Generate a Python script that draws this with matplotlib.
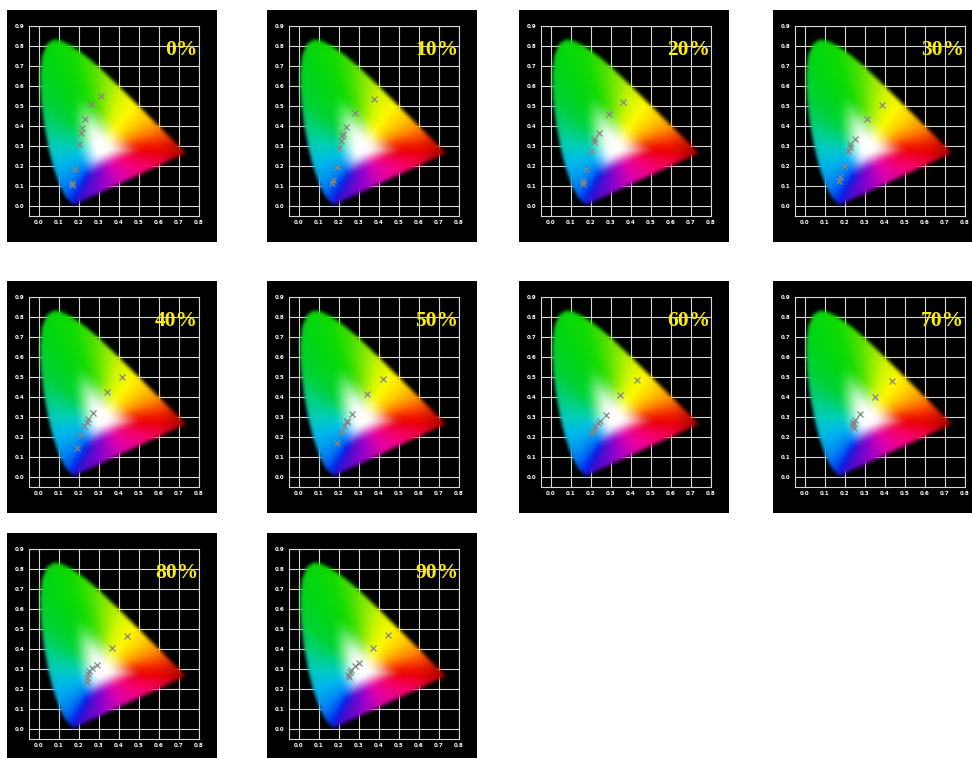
import numpy as np
import matplotlib
matplotlib.use("Agg")
import matplotlib.pyplot as plt
from matplotlib.patches import Rectangle
from matplotlib.path import Path

# CIE 1931 2-degree spectral locus (chromaticity x, y), 380-670 nm in 5 nm steps, then 700 nm
locus_nm = list(range(380, 675, 5)) + [700]
locus_x = [0.1741, 0.1740, 0.1738, 0.1736, 0.1733, 0.1730, 0.1726, 0.1721, 0.1714, 0.1703,
           0.1689, 0.1669, 0.1644, 0.1611, 0.1566, 0.1510, 0.1440, 0.1355, 0.1241, 0.1096,
           0.0913, 0.0687, 0.0454, 0.0235, 0.0082, 0.0039, 0.0139, 0.0389, 0.0743, 0.1142,
           0.1547, 0.1929, 0.2296, 0.2658, 0.3016, 0.3373, 0.3731, 0.4087, 0.4441, 0.4788,
           0.5125, 0.5448, 0.5752, 0.6029, 0.6270, 0.6482, 0.6658, 0.6801, 0.6915, 0.7006,
           0.7079, 0.7140, 0.7190, 0.7230, 0.7260, 0.7283, 0.7300, 0.7311, 0.7320, 0.7347]
locus_y = [0.0050, 0.0050, 0.0049, 0.0049, 0.0048, 0.0048, 0.0048, 0.0048, 0.0051, 0.0058,
           0.0069, 0.0086, 0.0109, 0.0138, 0.0177, 0.0227, 0.0297, 0.0399, 0.0578, 0.0868,
           0.1327, 0.2007, 0.2950, 0.4127, 0.5384, 0.6548, 0.7502, 0.8120, 0.8338, 0.8262,
           0.8059, 0.7816, 0.7543, 0.7243, 0.6923, 0.6589, 0.6245, 0.5896, 0.5547, 0.5202,
           0.4866, 0.4544, 0.4242, 0.3965, 0.3725, 0.3514, 0.3340, 0.3197, 0.3083, 0.2993,
           0.2920, 0.2859, 0.2809, 0.2770, 0.2740, 0.2717, 0.2700, 0.2689, 0.2680, 0.2653]

# Panel titles
levels = ["0%", "10%", "20%", "30%", "40%", "50%", "60%", "70%", "80%", "90%"]

# Measured chromaticity points for each level
x_00 = [0.310, 0.260, 0.230, 0.217, 0.210, 0.200, 0.182, 0.165, 0.163]
y_00 = [0.548, 0.508, 0.433, 0.388, 0.364, 0.312, 0.186, 0.115, 0.105]
x_10 = [0.375, 0.278, 0.237, 0.218, 0.217, 0.212, 0.202, 0.192, 0.168, 0.167]
y_10 = [0.537, 0.463, 0.396, 0.358, 0.349, 0.325, 0.292, 0.193, 0.129, 0.114]
x_20 = [0.358, 0.292, 0.238, 0.217, 0.213, 0.200, 0.175, 0.160, 0.160]
y_20 = [0.518, 0.460, 0.367, 0.334, 0.319, 0.275, 0.183, 0.124, 0.109]
x_30 = [0.387, 0.312, 0.248, 0.223, 0.223, 0.215, 0.195, 0.175, 0.172]
y_30 = [0.504, 0.434, 0.337, 0.308, 0.295, 0.275, 0.200, 0.147, 0.124]
x_40 = [0.415, 0.342, 0.268, 0.243, 0.238, 0.225, 0.205, 0.192]
y_40 = [0.500, 0.423, 0.322, 0.289, 0.277, 0.253, 0.211, 0.146]
x_50 = [0.420, 0.342, 0.267, 0.242, 0.238, 0.225, 0.208, 0.192]
y_50 = [0.492, 0.413, 0.315, 0.280, 0.273, 0.257, 0.223, 0.170]
x_60 = [0.428, 0.345, 0.273, 0.245, 0.237, 0.220, 0.208, 0.198]
y_60 = [0.485, 0.408, 0.312, 0.280, 0.270, 0.253, 0.236, 0.219]
x_70 = [0.436, 0.352, 0.275, 0.252, 0.238, 0.242, 0.235, 0.243]
y_70 = [0.478, 0.401, 0.315, 0.287, 0.274, 0.267, 0.257, 0.243]
x_80 = [0.442, 0.367, 0.292, 0.267, 0.252, 0.243, 0.242, 0.238]
y_80 = [0.467, 0.405, 0.321, 0.305, 0.290, 0.274, 0.257, 0.235]
x_90 = [0.445, 0.370, 0.298, 0.278, 0.262, 0.253, 0.245, 0.248]
y_90 = [0.469, 0.407, 0.332, 0.313, 0.293, 0.285, 0.272, 0.260]

series_x = [x_00, x_10, x_20, x_30, x_40, x_50, x_60, x_70, x_80, x_90]
series_y = [y_00, y_10, y_20, y_30, y_40, y_50, y_60, y_70, y_80, y_90]

x_ticks = [0.0, 0.1, 0.2, 0.3, 0.4, 0.5, 0.6, 0.7, 0.8]
y_ticks = [0.0, 0.1, 0.2, 0.3, 0.4, 0.5, 0.6, 0.7, 0.8, 0.9]

XLIM = (-0.05, 0.8)
YLIM = (-0.05, 0.9)

# Display colours along the spectral edge (wavelength -> RGB) and along the line of purples
edge_nm = [380, 440, 460, 475, 485, 490, 495, 500, 510, 530, 545, 555, 565, 575, 585, 595, 605, 620, 700]
edge_rgb = [(40, 20, 210), (25, 25, 225), (0, 60, 245), (0, 130, 245), (0, 185, 235), (0, 205, 190),
            (0, 210, 120), (0, 210, 55), (0, 215, 20), (20, 220, 0), (80, 225, 0), (140, 235, 0),
            (210, 245, 0), (255, 250, 0), (255, 205, 0), (255, 140, 0), (250, 70, 0), (240, 20, 0),
            (235, 0, 0)]
purple_t = [0.0, 0.15, 0.35, 0.55, 0.75, 1.0]
purple_rgb = [(235, 0, 0), (240, 0, 50), (245, 0, 115), (225, 0, 170), (145, 0, 205), (40, 20, 210)]
WHITE_XY = (0.315, 0.285)


def gaussian_blur(a, sigma):
    r = int(3 * sigma) + 1
    k = np.exp(-0.5 * (np.arange(-r, r + 1) / sigma) ** 2)
    k /= k.sum()
    pad = np.pad(a, ((r, r), (r, r), (0, 0)), mode="constant")
    tmp = np.apply_along_axis(lambda v: np.convolve(v, k, mode="valid"), 0, pad)
    return np.apply_along_axis(lambda v: np.convolve(v, k, mode="valid"), 1, tmp)


def boundary_with_colours():
    lx, ly, lnm = np.array(locus_x), np.array(locus_y), np.array(locus_nm, float)
    nm_f = np.linspace(380, 700, 641)
    bx = np.interp(nm_f, lnm, lx)
    by = np.interp(nm_f, lnm, ly)
    er = np.array(edge_rgb, float) / 255
    bc = np.stack([np.interp(nm_f, edge_nm, er[:, k]) for k in range(3)], axis=-1)
    t = np.linspace(0, 1, 200)[1:-1]
    px = lx[-1] + (lx[0] - lx[-1]) * t
    py = ly[-1] + (ly[0] - ly[-1]) * t
    pr = np.array(purple_rgb, float) / 255
    pc = np.stack([np.interp(t, purple_t, pr[:, k]) for k in range(3)], axis=-1)
    return np.r_[bx, px], np.r_[by, py], np.r_[bc, pc]


def chromaticity_image(n=360, sigma=3.5):
    xs = np.linspace(*XLIM, n)
    ys = np.linspace(*YLIM, n)
    X, Y = np.meshgrid(xs, ys)
    bx, by, bc = boundary_with_colours()
    wx, wy = WHITE_XY
    b_ang = np.arctan2(by - wy, bx - wx)
    b_dist = np.hypot(bx - wx, by - wy)
    order = np.argsort(b_ang)
    b_ang, b_dist, bc = b_ang[order], b_dist[order], bc[order]
    ang = np.arctan2(Y - wy, X - wx)
    dist = np.hypot(X - wx, Y - wy)
    R = np.interp(ang, b_ang, b_dist, period=2 * np.pi)
    edge = np.stack([np.interp(ang, b_ang, bc[:, k], period=2 * np.pi) for k in range(3)], axis=-1)
    r = dist / R
    s = np.clip((r - 0.06) / 0.46, 0, 1)
    s = (s * s * (3 - 2 * s))[..., None]
    rgb = 1 - s + s * edge
    # the long-wavelength corner fades to a deeper red
    shade = 1 - 0.35 * np.clip((X - 0.58) / 0.155, 0, 1) ** 1.5
    rgb = rgb * shade[..., None]
    inside = Path(np.column_stack([locus_x, locus_y])).contains_points(
        np.column_stack([X.ravel(), Y.ravel()])).reshape(X.shape)
    rgba = np.concatenate([rgb * inside[..., None], inside[..., None].astype(float)], axis=-1)
    rgba = gaussian_blur(rgba, sigma)
    a = np.clip(rgba[..., 3:4], 1e-6, None)
    return np.concatenate([np.clip(rgba[..., :3] / a, 0, 1), np.clip(rgba[..., 3:4], 0, 1)], axis=-1)


W, H, DPI = 972, 758, 100
fig = plt.figure(figsize=(W / DPI, H / DPI), dpi=DPI, facecolor="white")

panel_left = [7, 267, 519, 773]
panel_top = [10, 281, 533]
panel_w, panel_h = 210, 232
ax_off_x, ax_off_y = 22, 16
ax_w, ax_h = 170, 190

img = chromaticity_image()
grid_col = "#d8d8d8"

for i, lab in enumerate(levels):
    r, c = divmod(i, 4)
    px, py = panel_left[c], panel_top[r]
    fig.add_artist(Rectangle((px / W, 1 - (py + panel_h) / H), panel_w / W, panel_h / H,
                             transform=fig.transFigure, facecolor="black",
                             edgecolor="none", zorder=-5))
    ax = fig.add_axes([(px + ax_off_x) / W, 1 - (py + ax_off_y + ax_h) / H, ax_w / W, ax_h / H])
    ax.set_facecolor("black")
    ax.set_xlim(*XLIM)
    ax.set_ylim(*YLIM)
    for v in x_ticks:
        ax.axvline(v, color=grid_col, lw=0.8, zorder=1)
    for v in y_ticks:
        ax.axhline(v, color=grid_col, lw=0.8, zorder=1)
    for s in ax.spines.values():
        s.set_color(grid_col)
        s.set_linewidth(0.8)
    ax.imshow(img, origin="lower", extent=(*XLIM, *YLIM),
              interpolation="bilinear", zorder=2, aspect="auto")
    ax.plot(series_x[i], series_y[i], linestyle="none", marker="x", ms=5,
            mew=0.9, color="#858585", zorder=3)
    ax.set_xticks(x_ticks)
    ax.set_yticks(y_ticks)
    ax.set_xticklabels([f"{v:.1f}" for v in x_ticks])
    ax.set_yticklabels([f"{v:.1f}" for v in y_ticks])
    ax.tick_params(length=0, colors="white", labelsize=4, pad=3)
    for t in ax.get_xticklabels() + ax.get_yticklabels():
        t.set_fontweight("bold")
    ax.text(0.795, 0.755, lab, ha="right", va="baseline", color="#ffee00",
            fontsize=15.5, fontweight="bold", family="Liberation Serif", zorder=4)

fig.savefig("out.png", dpi=DPI, facecolor="white")
